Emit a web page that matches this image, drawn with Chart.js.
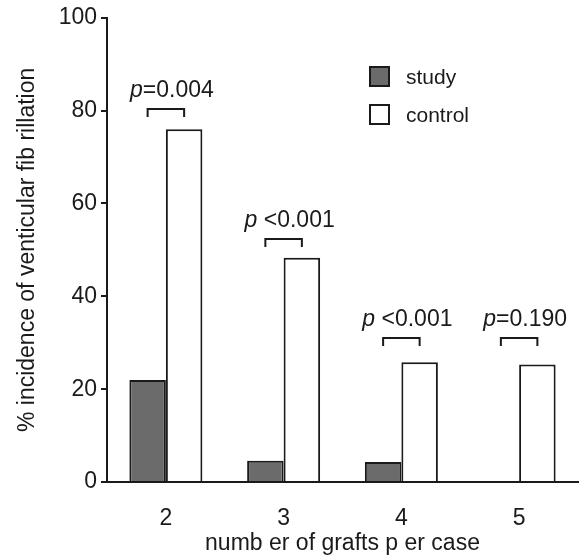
<!DOCTYPE html>
<html>
<head>
<meta charset="utf-8">
<script src="https://cdn.jsdelivr.net/npm/chart.js@4.4.1/dist/chart.umd.min.js"></script>
<style>
  html, body { margin: 0; padding: 0; background: #fff; }
  #wrap { width: 586px; height: 557px; }
</style>
</head>
<body>
<div id="wrap"><canvas id="myChart" width="586" height="557"></canvas></div>
<script>
// dati
const categories = ['2', '3', '4', '5']
const studyValues = [22, 4.6, 4.3, 0]
const controlValues = [76, 48.3, 25.8, 25.3]
const pPrefix = ['p', 'p ', 'p ', 'p']
const pValues = ['=0.004', '<0.001', '<0.001', '=0.190']
const bracketLevels = [80.3, 52.4, 31.1, 31.1]
const yTicks = [0, 20, 40, 60, 80, 100]

const ink = '#1a1a1a'
const fontName = "'Liberation Sans', Arial, sans-serif"

// parentesi con p-value sopra ogni gruppo + legenda
const pBrackets = {
  id: 'pBrackets',
  afterDatasetsDraw(chart) {
    const { ctx, scales } = chart
    const a = chart.getDatasetMeta(0).data
    const b = chart.getDatasetMeta(1).data
    ctx.save()
    ctx.strokeStyle = ink
    ctx.lineWidth = 2
    ctx.fillStyle = ink
    ctx.textBaseline = 'middle'
    categories.forEach((c, i) => {
      const x0 = a[i].x
      const x1 = b[i].x
      const y = Math.round(scales.y.getPixelForValue(bracketLevels[i]))
      ctx.beginPath()
      ctx.moveTo(x0, y + 8)
      ctx.lineTo(x0, y)
      ctx.lineTo(x1, y)
      ctx.lineTo(x1, y + 8)
      ctx.stroke()
      // testo: "p" corsivo e resto normale
      ctx.font = 'italic 23px ' + fontName
      const w1 = ctx.measureText(pPrefix[i]).width
      ctx.font = '23px ' + fontName
      const w2 = ctx.measureText(pValues[i]).width
      const cx = (x0 + x1) / 2 + 6
      const start = cx - (w1 + w2) / 2
      ctx.font = 'italic 23px ' + fontName
      ctx.textAlign = 'left'
      ctx.fillText(pPrefix[i], start, y - 18)
      ctx.font = '23px ' + fontName
      ctx.fillText(pValues[i], start + w1, y - 18)
    })

    // legenda
    const legendX = 370
    const legendY = 67
    chart.data.datasets.forEach((ds, i) => {
      const top = legendY + i * 38
      ctx.fillStyle = ds.backgroundColor
      ctx.fillRect(legendX, top, 19, 19)
      ctx.strokeStyle = ink
      ctx.lineWidth = 2
      ctx.strokeRect(legendX, top, 19, 19)
      ctx.fillStyle = ink
      ctx.font = '21px ' + fontName
      ctx.textAlign = 'left'
      ctx.fillText(ds.label, legendX + 36, top + 11)
    })
    ctx.restore()
  }
}

const ctx = document.getElementById('myChart')

new Chart(ctx, {
  type: 'bar',
  plugins: [pBrackets],
  data: {
    labels: categories,
    datasets: [
      {
        label: 'study',
        data: studyValues,
        backgroundColor: '#6b6b6b',
        borderColor: ink,
        borderWidth: 2
      },
      {
        label: 'control',
        data: controlValues,
        backgroundColor: '#ffffff',
        borderColor: ink,
        borderWidth: 2
      }
    ]
  },
  options: {
    responsive: false,
    animation: false,
    layout: { padding: { top: 14, right: 8, left: 0, bottom: 0 } },
    datasets: {
      bar: { categoryPercentage: 0.62, barPercentage: 1 }
    },
    plugins: {
      legend: { display: false },
      tooltip: { enabled: false }
    },
    scales: {
      x: {
        grid: { display: false },
        border: { display: true, color: ink, width: 2 },
        ticks: { color: ink, padding: 15, font: { family: fontName, size: 23 } },
        title: {
          display: true,
          text: 'numb er of grafts p er case',
          color: ink,
          padding: { top: 0, bottom: 0 },
          font: { family: fontName, size: 23 }
        },
        afterFit(scale) { scale.height = 75 }
      },
      y: {
        min: 0,
        max: 100,
        afterBuildTicks(scale) { scale.ticks = yTicks.map(v => ({ value: v })) },
        grid: { drawOnChartArea: false, drawTicks: true, tickLength: 6, color: ink, lineWidth: 2 },
        border: { display: true, color: ink, width: 2 },
        ticks: { color: ink, padding: 4, font: { family: fontName, size: 23 } },
        title: {
          display: true,
          text: '% incidence of venticular fib rillation',
          color: ink,
          padding: { top: 14, bottom: 0 },
          font: { family: fontName, size: 23 }
        },
        afterFit(scale) { scale.width = 107 }
      }
    }
  }
})
</script>
</body>
</html>
